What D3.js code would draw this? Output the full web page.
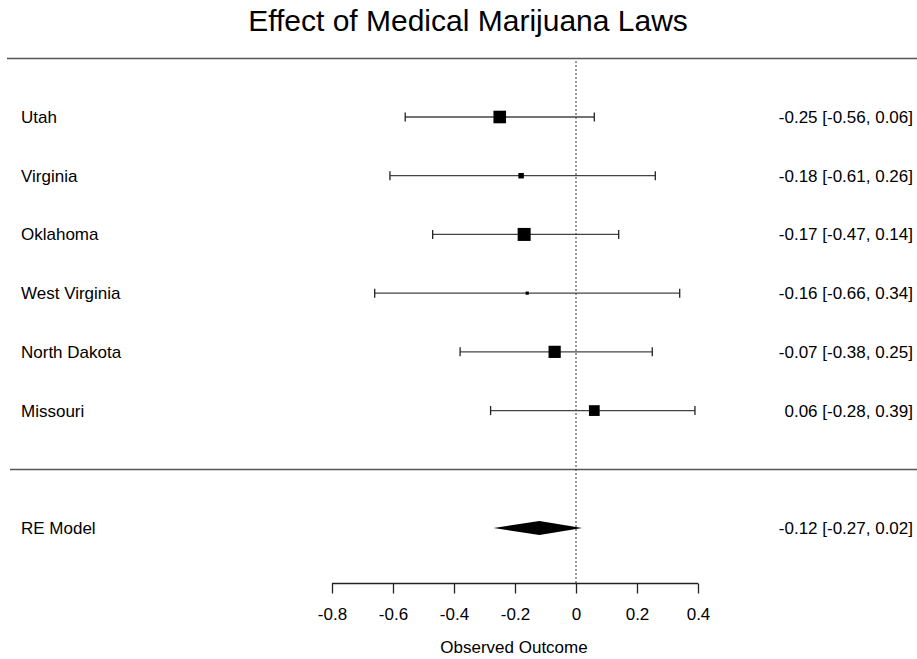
<!DOCTYPE html>
<html><head><meta charset="utf-8">
<script src="https://cdn.jsdelivr.net/npm/d3@7"></script>
<style>body{margin:0;background:#fff}svg{display:block}text{font-family:"Liberation Sans",Arial,sans-serif;fill:#000}</style>
</head><body><svg id="c" width="917" height="659"></svg>
<script>
const studies = ["Utah","Virginia","Oklahoma","West Virginia","North Dakota","Missouri"];
const estimates = [-0.25,-0.18,-0.17,-0.16,-0.07,0.06];
const lower = [-0.56,-0.61,-0.47,-0.66,-0.38,-0.28];
const upper = [0.06,0.26,0.14,0.34,0.25,0.39];
const modelLabel = "RE Model";
const modelEst = -0.12, modelLow = -0.27, modelHigh = 0.02;
const xTicks = [-0.8,-0.6,-0.4,-0.2,0,0.2,0.4];
const title = "Effect of Medical Marijuana Laws";
const xTitle = "Observed Outcome";

const svg = d3.select("#c");
const W = 917;
const x = d3.scaleLinear().domain([-0.8,0.4]).range([332,698]);
// rows: 6 studies, one empty row, model
const rowKeys = studies.concat(["__gap",modelLabel]);
const y = d3.scalePoint().domain(rowKeys).range([117,528]);
const prec = lower.map((l,i)=>3.92/(upper[i]-l));
const size = d3.scaleLinear().domain(d3.extent(prec)).range([3.2,13]);
const fmt = v => (v<0?"-":"") + Math.abs(v).toFixed(2);
const tickFmt = v => v===0 ? "0" : (v<0?"-":"") + String(Math.abs(+v.toFixed(1)));

svg.append("text").attr("x",468).attr("y",31).attr("text-anchor","middle").style("font-size","30px").text(title);

// horizontal rules
svg.append("line").attr("x1",7).attr("x2",W).attr("y1",58.5).attr("y2",58.5).attr("stroke","#555").attr("stroke-width",1.3);
svg.append("line").attr("x1",10).attr("x2",W).attr("y1",469.5).attr("y2",469.5).attr("stroke","#555").attr("stroke-width",1.3);

// reference line
svg.append("line").attr("x1",x(0)).attr("x2",x(0)).attr("y1",61).attr("y2",583).attr("stroke","#333").attr("stroke-width",1).attr("stroke-dasharray","2,2");

const g = svg.append("g");
studies.forEach((s,i)=>{
  const yy = y(s);
  g.append("line").attr("x1",x(lower[i])).attr("x2",x(upper[i])).attr("y1",yy).attr("y2",yy).attr("stroke","#444").attr("stroke-width",1.3);
  [lower[i],upper[i]].forEach(v=>{
    g.append("line").attr("x1",x(v)).attr("x2",x(v)).attr("y1",yy-4.5).attr("y2",yy+4.5).attr("stroke","#222").attr("stroke-width",1.3);
  });
  const sz = size(prec[i]);
  g.append("rect").attr("x",x(estimates[i])-sz/2).attr("y",yy-sz/2).attr("width",sz).attr("height",sz).attr("fill","#000");
  svg.append("text").attr("x",21).attr("y",yy+6).style("font-size","17px").text(s);
  svg.append("text").attr("x",913).attr("y",yy+6).attr("text-anchor","end").style("font-size","17px")
    .text(`${fmt(estimates[i])} [${fmt(lower[i])}, ${fmt(upper[i])}]`);
});

// model diamond
const ym = y(modelLabel);
svg.append("polygon").attr("points",[[x(modelLow),ym],[x(modelEst),ym-7],[x(modelHigh),ym],[x(modelEst),ym+7]].map(p=>p.join(",")).join(" ")).attr("fill","#000");
svg.append("text").attr("x",21).attr("y",ym+6).style("font-size","17px").text(modelLabel);
svg.append("text").attr("x",913).attr("y",ym+6).attr("text-anchor","end").style("font-size","17px")
  .text(`${fmt(modelEst)} [${fmt(modelLow)}, ${fmt(modelHigh)}]`);

// axis
const ax = svg.append("g").attr("transform","translate(0,583.5)")
  .call(d3.axisBottom(x).tickValues(xTicks).tickSize(10).tickSizeOuter(0).tickFormat(tickFmt));
ax.select(".domain").attr("stroke","#222").attr("stroke-width",1.3).attr("d",`M${x(-0.8)},0H${x(0.4)}`);
ax.selectAll(".tick line").attr("stroke","#222").attr("stroke-width",1.3);
ax.selectAll(".tick text").attr("dy",null).attr("y",36).style("font-size","17px").style("font-family","Liberation Sans, Arial, sans-serif").attr("fill","#000");
svg.append("text").attr("x",x(-0.2)-1).attr("y",653).attr("text-anchor","middle").style("font-size","17px").text(xTitle);
</script></body></html>
